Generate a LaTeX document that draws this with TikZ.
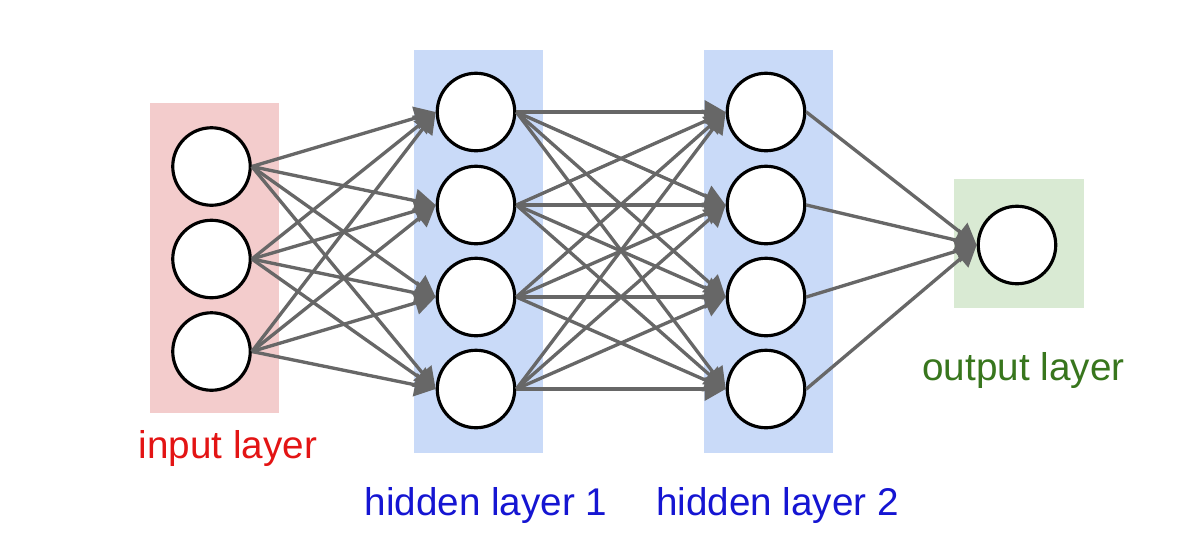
\documentclass[tikz,border=0pt]{standalone}
\usepackage{fontspec}
\setmainfont{Liberation Sans}
\usetikzlibrary{arrows.meta}
\definecolor{inbox}{HTML}{F3CCCC}
\definecolor{hidbox}{HTML}{C9DAF8}
\definecolor{outbox}{HTML}{D9EAD3}
\definecolor{intext}{HTML}{E31414}
\definecolor{hidtext}{HTML}{1515D2}
\definecolor{outtext}{HTML}{38761D}
\definecolor{edge}{HTML}{676767}
\tikzset{
  neuron/.style={circle, draw=black, line width=1.8pt, fill=white, minimum size=1.55cm, inner sep=0pt},
  conn/.style={draw=edge, line width=1.9pt, -{Triangle[length=0.42cm, width=0.46cm]}},
  lbl/.style={anchor=base, font=\fontsize{22}{26}\selectfont}
}

\begin{document}
\begin{tikzpicture}
\useasboundingbox (0,0) rectangle (23.98,-10.96);
\fill [inbox] (3.00,-2.06) rectangle (5.58,-8.26);
\fill [hidbox] (8.28,-1.00) rectangle (10.86,-9.06);
\fill [hidbox] (14.08,-1.00) rectangle (16.66,-9.06);
\fill [outbox] (19.08,-3.58) rectangle (21.68,-6.16);

\node [neuron] (in1) at (4.23,-3.33) {};
\node [neuron] (in2) at (4.23,-5.18) {};
\node [neuron] (in3) at (4.23,-7.03) {};

\node [neuron] (ha1) at (9.52,-2.24) {};
\node [neuron] (ha2) at (9.52,-4.10) {};
\node [neuron] (ha3) at (9.52,-5.94) {};
\node [neuron] (ha4) at (9.52,-7.78) {};

\node [neuron] (hb1) at (15.32,-2.24) {};
\node [neuron] (hb2) at (15.32,-4.10) {};
\node [neuron] (hb3) at (15.32,-5.94) {};
\node [neuron] (hb4) at (15.32,-7.78) {};

\node [neuron] (out) at (20.34,-4.90) {};

\foreach \i in {1,2,3}
  \foreach \j in {1,2,3,4}
    \draw [conn] (in\i.east) -- (ha\j.west);
\foreach \i in {1,2,3,4}
  \foreach \j in {1,2,3,4}
    \draw [conn] (ha\i.east) -- (hb\j.west);
\foreach \i in {1,2,3,4}
  \draw [conn] (hb\i.east) -- (out.west);

\node [lbl, text=intext] (inlabel) at (4.56,-9.16) {input layer};
\node [lbl, text=hidtext] (halabel) at (9.72,-10.30) {hidden layer 1};
\node [lbl, text=hidtext] (hblabel) at (15.55,-10.30) {hidden layer 2};
\node [lbl, text=outtext] (outlabel) at (20.47,-7.60) {output layer};
\end{tikzpicture}
\end{document}
